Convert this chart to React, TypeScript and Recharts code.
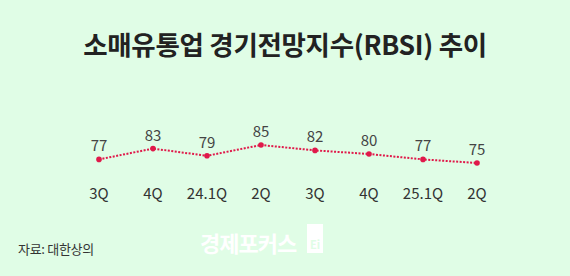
import { LabelList, Line, LineChart, XAxis, YAxis } from "recharts";

const quarters = ["3Q", "4Q", "24.1Q", "2Q", "3Q", "4Q", "25.1Q", "2Q"];
const rbsi = [77, 83, 79, 85, 82, 80, 77, 75];

const data = quarters.map((q, i) => ({ q, rbsi: rbsi[i] }));

const FONT = "'Noto Sans CJK KR', 'Noto Sans', sans-serif";
const BG = "#e0fde6";
const LINE = "#e0194a";

export default function App() {
  return (
    <div
      style={{
        position: "fixed",
        top: 0,
        left: 0,
        width: 570,
        height: 276,
        background: BG,
        fontFamily: FONT,
        overflow: "hidden",
      }}
    >
      <div style={{ position: "absolute", top: 0, left: 0 }}>
        <LineChart
          width={570}
          height={276}
          data={data}
          margin={{ top: 136, right: 93, bottom: 74, left: 99 }}
        >
          <XAxis
            dataKey="q"
            type="category"
            padding={{ left: 0, right: 0 }}
            axisLine={false}
            tickLine={false}
            tickSize={0}
            tickMargin={16}
            height={30}
            interval={0}
            tick={{ fontSize: 15, fill: "#333", fontFamily: FONT }}
          />
          <YAxis hide domain={[70, 90]} />
          <Line
            type="linear"
            dataKey="rbsi"
            stroke={LINE}
            strokeWidth={2}
            strokeDasharray="2 1.5"
            dot={{ r: 2.8, fill: LINE, stroke: LINE, strokeWidth: 0 }}
            isAnimationActive={false}
          >
            <LabelList
              dataKey="rbsi"
              position="top"
              offset={8}
              fontSize={15}
              fill="#444"
              fontFamily={FONT}
            />
          </Line>
        </LineChart>
      </div>

      <div
        style={{
          position: "absolute",
          top: 26,
          left: 0,
          width: 570,
          textAlign: "center",
          fontSize: 26.5,
          fontWeight: 700,
          color: "#222",
          lineHeight: "36px",
          letterSpacing: -0.3,
        }}
      >
        소매유통업 경기전망지수(RBSI) 추이
      </div>

      <div
        style={{
          position: "absolute",
          left: 18,
          top: 240,
          fontSize: 13,
          color: "#333",
          lineHeight: "18px",
          letterSpacing: -0.3,
        }}
      >
        자료: 대한상의
      </div>

      <div
        style={{
          position: "absolute",
          left: 200,
          top: 227,
          fontSize: 22,
          fontWeight: 700,
          color: "#ffffff",
          lineHeight: "30px",
          letterSpacing: -1,
        }}
      >
        경제포커스
      </div>
      <div
        style={{
          position: "absolute",
          left: 307,
          top: 224,
          width: 16,
          height: 29,
          background: "#ffffff",
          color: BG,
          fontSize: 11,
          fontWeight: 700,
          lineHeight: "40px",
          textAlign: "center",
        }}
      >
        Ei
      </div>
    </div>
  );
}
